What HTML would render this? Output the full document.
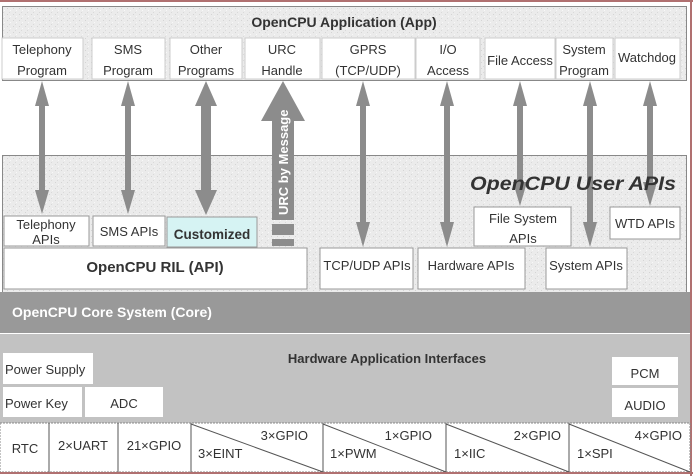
<!DOCTYPE html>
<html><head><meta charset="utf-8"><style>
html,body{margin:0;padding:0;background:#fff}
svg{display:block}
text{font-family:"Liberation Sans",Arial,sans-serif;fill:#333}
</style></head><body>
<svg width="693" height="476" viewBox="0 0 693 476" xmlns="http://www.w3.org/2000/svg">
<defs>
<pattern id="nz" width="6" height="6" patternUnits="userSpaceOnUse">
<rect width="6" height="6" fill="#ebebeb"/>
<rect x="1" y="2" width="1" height="1" fill="#d4d4d4"/>
<rect x="4" y="4" width="1" height="1" fill="#f8f8f8"/>
<rect x="3" y="0" width="1" height="1" fill="#d9d9d9"/>
</pattern>
</defs>
<rect x="0" y="0" width="693" height="476" fill="#fff"/>
<line x1="0" y1="1" x2="693" y2="1" stroke="#b07070" stroke-width="2"/>
<line x1="691" y1="0" x2="691" y2="476" stroke="#b07070" stroke-width="2"/>
<!-- App panel -->
<rect x="2.5" y="6.5" width="684" height="74" fill="url(#nz)" stroke="#888"/>
<text x="344" y="27" font-size="14" font-weight="bold" text-anchor="middle">OpenCPU Application (App)</text>
<g fill="#fff" stroke="#ccc">
<rect x="2" y="38" width="81" height="41"/>
<rect x="92" y="38" width="73" height="41"/>
<rect x="170" y="38" width="72" height="41"/>
<rect x="245" y="38" width="75" height="41"/>
<rect x="322" y="38" width="93" height="41"/>
<rect x="416" y="38" width="64" height="41"/>
<rect x="485" y="38" width="70" height="41"/>
<rect x="556" y="38" width="57" height="41"/>
<rect x="615" y="38" width="65" height="41"/>
</g>
<g font-size="13" text-anchor="middle">
<text x="42" y="54">Telephony</text><text x="42" y="75">Program</text>
<text x="128" y="54">SMS</text><text x="128" y="75">Program</text>
<text x="206" y="54">Other</text><text x="206" y="75">Programs</text>
<text x="282" y="54">URC</text><text x="282" y="75">Handle</text>
<text x="368" y="54">GPRS</text><text x="368" y="75">(TCP/UDP)</text>
<text x="448" y="54">I/O</text><text x="448" y="75">Access</text>
<text x="520" y="65">File Access</text>
<text x="584" y="54">System</text><text x="584" y="75">Program</text>
<text x="647" y="62">Watchdog</text>
</g>
<!-- User APIs panel -->
<rect x="2.5" y="155.5" width="684" height="137" fill="url(#nz)" stroke="#888"/>
<!-- arrows -->
<g fill="#8c8c8c">
<path d="M42 81 L35 106 L39 106 L39 190 L35 190 L42 214 L49 190 L45 190 L45 106 L49 106 Z"/>
<path d="M128 81 L121 106 L125 106 L125 190 L121 190 L128 214 L135 190 L131 190 L131 106 L135 106 Z"/>
<path d="M206 81 L195 106 L201 106 L201 190 L195 190 L206 215 L217 190 L211 190 L211 106 L217 106 Z"/>
<path d="M363 81 L356 106 L360 106 L360 222 L356 222 L363 247 L370 222 L366 222 L366 106 L370 106 Z"/>
<path d="M447 81 L440 106 L444 106 L444 222 L440 222 L447 247 L454 222 L450 222 L450 106 L454 106 Z"/>
<path d="M520 81 L513 106 L517 106 L517 182 L513 182 L520 206 L527 182 L523 182 L523 106 L527 106 Z"/>
<path d="M590 81 L583 106 L587 106 L587 222 L583 222 L590 247 L597 222 L593 222 L593 106 L597 106 Z"/>
<path d="M650 81 L643 106 L647 106 L647 182 L643 182 L650 206 L657 182 L653 182 L653 106 L657 106 Z"/>
<path d="M283 81 L261 121 L272 121 L272 220 L294 220 L294 121 L305 121 Z"/>
<rect x="272" y="224" width="22" height="11"/>
<rect x="272" y="239" width="22" height="7"/>
</g>
<text x="470" y="190" font-size="19" font-weight="bold" font-style="italic" textLength="206" lengthAdjust="spacingAndGlyphs" fill="#333">OpenCPU  User  APIs</text>
<text transform="translate(288,215) rotate(-90)" font-size="13" font-weight="bold" style="fill:#fff">URC by Message</text>
<!-- API boxes -->
<g stroke="#999">
<rect x="4" y="216" width="85" height="30" fill="#fff"/>
<rect x="93" y="216" width="72" height="30" fill="#fff"/>
<rect x="167" y="217" width="90" height="30" fill="#d6f3f3"/>
<rect x="4" y="248" width="303" height="41" fill="#fff"/>
<rect x="320" y="248" width="93" height="41" fill="#fff"/>
<rect x="418" y="248" width="107" height="41" fill="#fff"/>
<rect x="474" y="207" width="97" height="39" fill="#fff"/>
<rect x="546" y="248" width="81" height="41" fill="#fff"/>
<rect x="610" y="207" width="70" height="32" fill="#fff"/>
</g>
<g font-size="13" text-anchor="middle">
<text x="46" y="229">Telephony</text><text x="46" y="244">APIs</text>
<text x="129" y="236">SMS APIs</text>
<text x="212" y="239" font-weight="bold" font-size="13.5">Customized</text>
<text x="155" y="272" font-size="15" font-weight="bold">OpenCPU RIL (API)</text>
<text x="367" y="270">TCP/UDP APIs</text>
<text x="471" y="270">Hardware APIs</text>
<text x="523" y="223">File System</text><text x="523" y="243">APIs</text>
<text x="586" y="270">System APIs</text>
<text x="645" y="228">WTD APIs</text>
</g>
<!-- Core -->
<rect x="0" y="292" width="690" height="41" fill="#999"/>
<text x="12" y="317" font-size="14" font-weight="bold" style="fill:#fff">OpenCPU Core System (Core)</text>
<!-- Hardware -->
<rect x="0" y="334" width="690" height="89" fill="#c2c2c2"/>
<text x="387" y="363" font-size="13" font-weight="bold" text-anchor="middle">Hardware Application Interfaces</text>
<g fill="#fff">
<rect x="3" y="353" width="90" height="31"/>
<rect x="3" y="387" width="79" height="30"/>
<rect x="85" y="387" width="78" height="30"/>
<rect x="612" y="357" width="66" height="28"/>
<rect x="612" y="388" width="66" height="29"/>
</g>
<g font-size="13">
<text x="5" y="374">Power Supply</text>
<text x="5" y="408">Power Key</text>
<text x="124" y="408" text-anchor="middle">ADC</text>
<text x="645" y="378" text-anchor="middle">PCM</text>
<text x="645" y="410" text-anchor="middle">AUDIO</text>
</g>
<!-- bottom row -->
<rect x="0" y="423" width="690" height="49" fill="#fff" stroke="#888" stroke-dasharray="2,1"/>
<g stroke="#555" stroke-width="1">
<line x1="49" y1="423" x2="49" y2="472"/>
<line x1="118" y1="423" x2="118" y2="472"/>
<line x1="191" y1="423" x2="191" y2="472"/>
<line x1="323" y1="423" x2="323" y2="472"/>
<line x1="446" y1="423" x2="446" y2="472"/>
<line x1="569" y1="423" x2="569" y2="472"/>
<line x1="191" y1="424" x2="323" y2="472"/>
<line x1="323" y1="424" x2="446" y2="472"/>
<line x1="446" y1="424" x2="569" y2="472"/>
<line x1="569" y1="424" x2="690" y2="472"/>
</g>
<line x1="0" y1="473" x2="693" y2="473" stroke="#b07070" stroke-width="2"/>
<g font-size="13">
<text x="25" y="453" text-anchor="middle">RTC</text>
<text x="83" y="450" text-anchor="middle">2×UART</text>
<text x="154" y="450" text-anchor="middle">21×GPIO</text>
<text x="308" y="440" text-anchor="end">3×GPIO</text><text x="198" y="458">3×EINT</text>
<text x="432" y="440" text-anchor="end">1×GPIO</text><text x="330" y="458">1×PWM</text>
<text x="561" y="440" text-anchor="end">2×GPIO</text><text x="454" y="458">1×IIC</text>
<text x="682" y="440" text-anchor="end">4×GPIO</text><text x="577" y="458">1×SPI</text>
</g>
</svg>
</body></html>
